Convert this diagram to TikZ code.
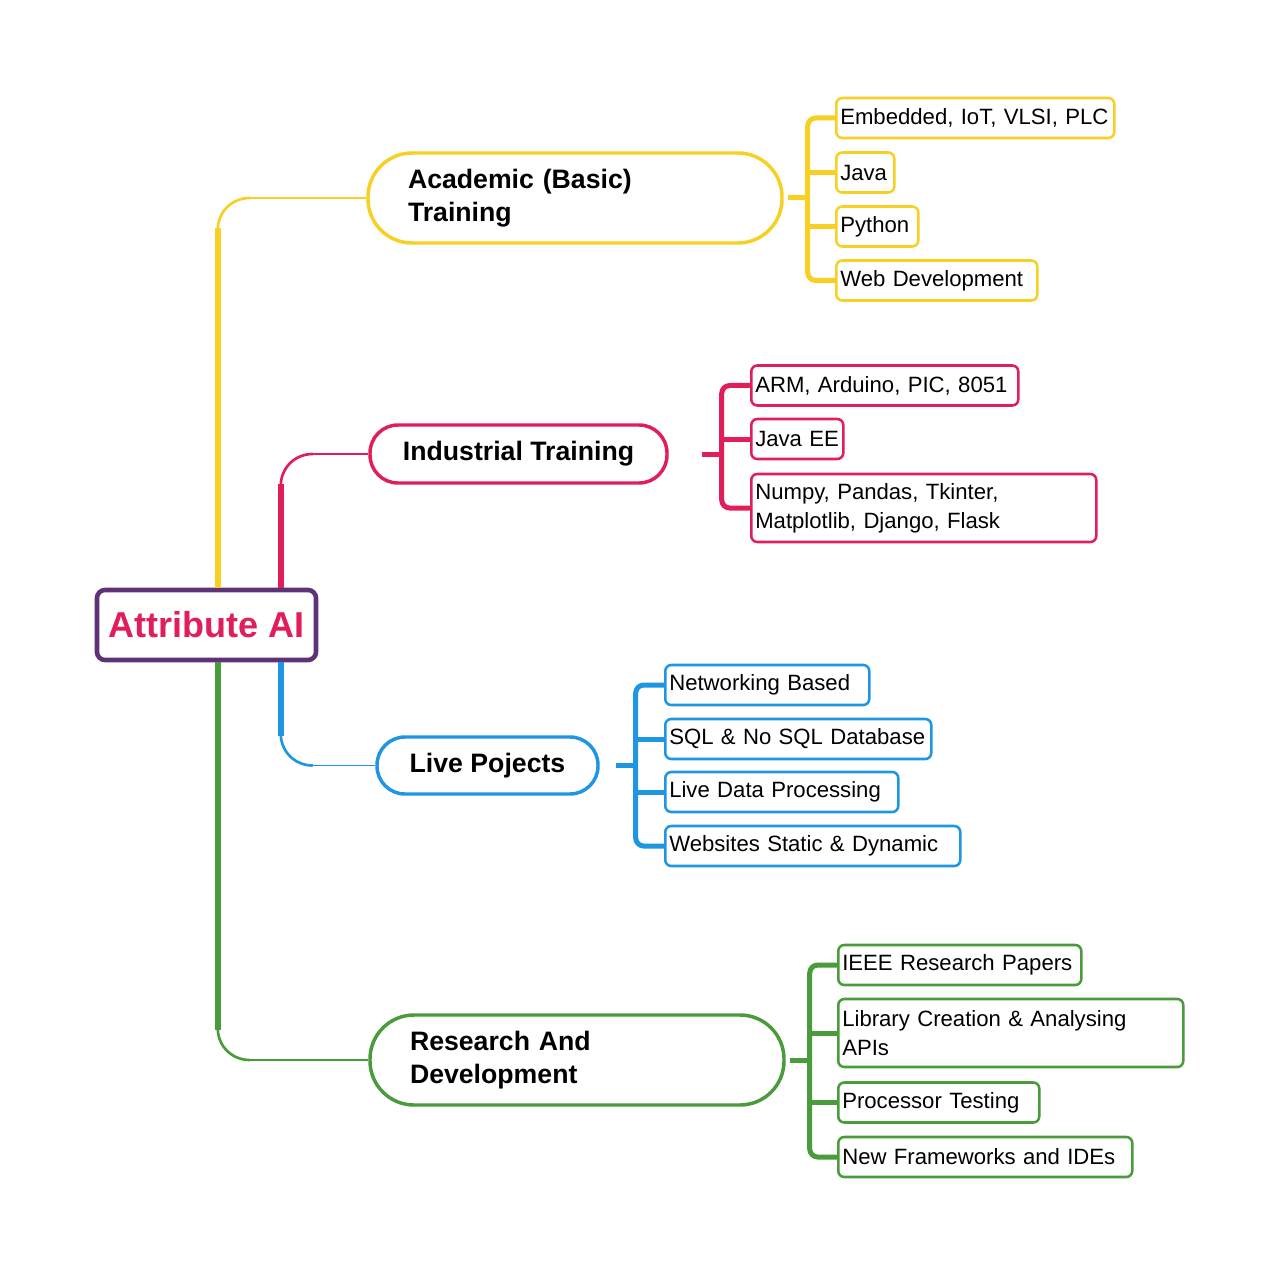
\documentclass[tikz,border=0pt]{standalone}
\usepackage{fontspec}
\setmainfont{Liberation Sans}
\usetikzlibrary{calc}
\definecolor{ycol}{RGB}{247,208,35}
\definecolor{rcol}{RGB}{224,30,90}
\definecolor{bcol}{RGB}{30,150,225}
\definecolor{gcol}{RGB}{74,155,60}
\definecolor{pcol}{RGB}{95,50,120}
\tikzset{every picture/.style={line width=0.75pt}}
\tikzset{
  rootbox/.style={draw=pcol, line width=3.4pt, rounded corners=6pt, fill=white, minimum width=164.25pt, minimum height=52.5pt, inner sep=0pt, text=rcol, font=\fontsize{27}{32}\selectfont\bfseries},
  mainbox/.style={draw=#1, line width=2.6pt, fill=white, inner ysep=0pt, font=\fontsize{20}{25}\selectfont\bfseries},
  leafbox/.style={draw=#1, line width=1.9pt, rounded corners=4.5pt, fill=white, anchor=west, inner xsep=3pt, inner ysep=0pt, minimum height=30pt, align=left, font=\fontsize{16.6}{21.5}\selectfont},
  trunk/.style={draw=#1, line width=4.5pt},
  bend/.style={draw=#1, line width=2pt},
  twig/.style={draw=#1, line width=1pt},
  bracket/.style={draw=#1, line width=3.75pt, rounded corners=6pt},
}
\begin{document}
\begin{tikzpicture}[x=0.75pt,y=0.75pt,yscale=-1,xscale=1]
\fill[white] (0,0) rectangle (1280,1276);
\useasboundingbox (0,0) rectangle (1280,1276);

%Shape: Root
\node[rootbox] (root) at (206.5,625) {Attribute AI};

%Shape: Main branches
\node[mainbox=ycol, minimum width=310.5pt, minimum height=67.5pt, rounded corners=33pt, text width=250.5pt, inner xsep=30pt, align=left] (acad) at (575,198) {Academic (Basic)\\Training};
\node[mainbox=rcol, minimum width=222.75pt, minimum height=43.5pt, rounded corners=21pt, align=center] (ind) at (518.5,454) {Industrial Training};
\node[mainbox=bcol, minimum width=165.75pt, minimum height=42.75pt, rounded corners=21pt, align=center] (live) at (487.5,765.5) {Live Pojects};
\node[mainbox=gcol, minimum width=310.5pt, minimum height=67.5pt, rounded corners=33pt, text width=250.5pt, inner xsep=30pt, align=left] (rnd) at (577,1060) {Research And\\Development};

%Trunks
\coordinate (ty) at ($(root.north west)+(123,0)$);
\coordinate (tr) at ($(root.north west)+(186,0)$);
\coordinate (tb) at ($(root.south west)+(186,0)$);
\coordinate (tg) at ($(root.south west)+(123,0)$);
\draw[trunk=ycol] (ty) -- ($(ty |- acad.west)+(0,30)$);
\draw[bend=ycol] ($(ty |- acad.west)+(0,32)$) .. controls ($(ty |- acad.west)+(0,14)$) and ($(ty |- acad.west)+(14,0)$) .. ($(ty |- acad.west)+(32,0)$);
\draw[twig=ycol] ($(ty |- acad.west)+(31,0)$) -- (acad.west);
\draw[trunk=rcol] (tr) -- ($(tr |- ind.west)+(0,30)$);
\draw[bend=rcol] ($(tr |- ind.west)+(0,32)$) .. controls ($(tr |- ind.west)+(0,14)$) and ($(tr |- ind.west)+(14,0)$) .. ($(tr |- ind.west)+(32,0)$);
\draw[twig=rcol] ($(tr |- ind.west)+(31,0)$) -- (ind.west);
\draw[trunk=bcol] (tb) -- ($(tb |- live.west)+(0,-30)$);
\draw[bend=bcol] ($(tb |- live.west)+(0,-32)$) .. controls ($(tb |- live.west)+(0,-14)$) and ($(tb |- live.west)+(14,0)$) .. ($(tb |- live.west)+(32,0)$);
\draw[twig=bcol] ($(tb |- live.west)+(31,0)$) -- (live.west);
\draw[trunk=gcol] (tg) -- ($(tg |- rnd.west)+(0,-30)$);
\draw[bend=gcol] ($(tg |- rnd.west)+(0,-32)$) .. controls ($(tg |- rnd.west)+(0,-14)$) and ($(tg |- rnd.west)+(14,0)$) .. ($(tg |- rnd.west)+(32,0)$);
\draw[twig=gcol] ($(tg |- rnd.west)+(31,0)$) -- (rnd.west);

%Leaves: Academic
\node[leafbox=ycol, text width=202.5pt] (emb) at (835,118) {Embedded, IoT, VLSI, PLC};
\node[leafbox=ycol, text width=37.5pt] (java) at (835,172.5) {Java};
\node[leafbox=ycol, text width=55.5pt] (py) at (835,226.5) {Python};
\node[leafbox=ycol, text width=144.75pt] (webdev) at (835,280.5) {Web Development};

%Leaves: Industrial
\node[leafbox=rcol, text width=194.25pt] (arm) at (750,385.5) {ARM, Arduino, PIC, 8051};
\node[leafbox=rcol, text width=63pt] (jee) at (750,439) {Java EE};
\node[leafbox=rcol, text width=252.75pt, minimum height=51pt] (numpy) at (750,508) {Numpy, Pandas, Tkinter,\\Matplotlib, Django, Flask};

%Leaves: Live
\node[leafbox=bcol, text width=147pt] (net) at (664,685) {Networking Based};
\node[leafbox=bcol, text width=193.5pt] (sql) at (664,739) {SQL \& No SQL Database};
\node[leafbox=bcol, text width=168.75pt] (ldp) at (664,792) {Live Data Processing};
\node[leafbox=bcol, text width=215.25pt] (site) at (664,846) {Websites Static \& Dynamic};

%Leaves: Research
\node[leafbox=gcol, text width=176.25pt] (ieee) at (837,965) {IEEE Research Papers};
\node[leafbox=gcol, text width=252.75pt, minimum height=51pt] (lib) at (837,1033) {Library Creation \& Analysing\\APIs};
\node[leafbox=gcol, text width=144.75pt] (proc) at (837,1102.5) {Processor Testing};
\node[leafbox=gcol, text width=214.5pt] (fw) at (837,1157) {New Frameworks and IDEs};

%Brackets
\coordinate (yb) at ($(acad.east)+(24,0)$);
\coordinate (rb) at ($(ind.east)+(53,0)$);
\coordinate (bb) at ($(live.east)+(36,0)$);
\coordinate (gb) at ($(rnd.east)+(24,0)$);

\draw[bracket=ycol] ($(yb)+(-20,0)$) -- (yb);
\draw[bracket=ycol] (emb.west) -| (yb) |- (webdev.west);
\draw[bracket=ycol] (yb |- java.west) -- (java.west);
\draw[bracket=ycol] (yb |- py.west) -- (py.west);

\draw[bracket=rcol] ($(rb)+(-20,0)$) -- (rb);
\draw[bracket=rcol] (arm.west) -| (rb) |- (numpy.west);
\draw[bracket=rcol] (rb |- jee.west) -- (jee.west);

\draw[bracket=bcol] ($(bb)+(-20,0)$) -- (bb);
\draw[bracket=bcol] (net.west) -| (bb) |- (site.west);
\draw[bracket=bcol] (bb |- sql.west) -- (sql.west);
\draw[bracket=bcol] (bb |- ldp.west) -- (ldp.west);

\draw[bracket=gcol] ($(gb)+(-20,0)$) -- (gb);
\draw[bracket=gcol] (ieee.west) -| (gb) |- (fw.west);
\draw[bracket=gcol] (gb |- lib.west) -- (lib.west);
\draw[bracket=gcol] (gb |- proc.west) -- (proc.west);

\end{tikzpicture}
\end{document}
